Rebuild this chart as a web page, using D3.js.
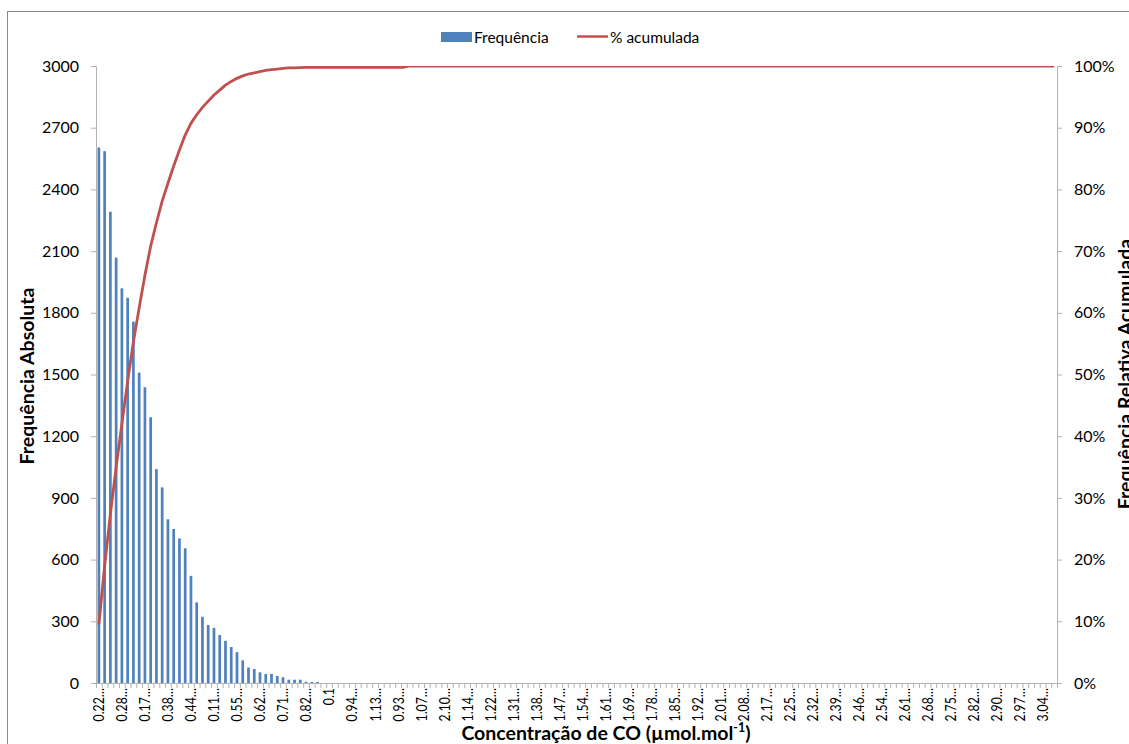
<!DOCTYPE html>
<html>
<head>
<meta charset="utf-8">
<script src="https://cdn.jsdelivr.net/npm/d3@7"></script>
<style>
  body { margin: 0; background: #fff; }
  svg { display: block; }
  text { font-family: Lato, "Open Sans", sans-serif; fill: #000; }
</style>
</head>
<body>
<svg id="chart" width="1129" height="744"></svg>
<script>
// Number of concentration classes on the horizontal axis
const binCount = 167;

// Class labels shown under the axis (one every four classes)
const tickLabels = [
  "0.22…","0.28…","0.17…","0.38…","0.44…","0.11…","0.55…","0.62…","0.71…","0.82…",
  "0.1","0.94…","1.13…","0.93…","1.07…","2.10…","1.14…","1.22…","1.31…","1.38…",
  "1.47…","1.54…","1.61…","1.69…","1.78…","1.85…","1.92…","2.01…","2.08…","2.17…",
  "2.25…","2.32…","2.39…","2.46…","2.54…","2.61…","2.68…","2.75…","2.82…","2.90…",
  "2.97…","3.04…"
];
const labelEvery = 4;

// Absolute frequency per class (classes beyond these are empty)
const freq = [
  2604, 2586, 2291, 2068, 1919, 1873, 1757, 1509, 1438, 1292,
  1040, 951, 796, 749, 703, 655, 521, 392, 322, 282,
  268, 233, 205, 175, 150, 110, 75, 68, 52, 44,
  44, 34, 28, 16, 16, 16, 6, 5, 5
];

// Cumulative relative frequency (%) per class; stays at 100% afterwards
const cumPct = [
  9.5, 19.0, 27.4, 35.0, 42.0, 48.9, 55.3, 60.8, 66.1, 70.8,
  74.6, 78.1, 81.0, 83.8, 86.4, 88.8, 90.7, 92.1, 93.3, 94.3,
  95.3, 96.1, 96.9, 97.5, 98.0, 98.4, 98.7, 98.9, 99.1, 99.3,
  99.4, 99.5, 99.6, 99.7, 99.7, 99.75, 99.78, 99.8, 99.8, 99.8,
  99.8, 99.8, 99.8, 99.8, 99.8, 99.8, 99.8, 99.8, 99.8, 99.8,
  99.8, 99.8, 99.8, 99.8, 100
];

const freqTicks = [0, 300, 600, 900, 1200, 1500, 1800, 2100, 2400, 2700, 3000];
const pctTicks = [0, 10, 20, 30, 40, 50, 60, 70, 80, 90, 100];

const barColor = "#4F81BD";
const lineColor = "#C0504D";
const axisColor = "#b3b3b3";

const plot = { left: 96, right: 1057, top: 66, bottom: 683 };

const svg = d3.select("#chart");

// Outer chart frame
svg.append("rect")
  .attr("x", 7.5).attr("y", 11.5)
  .attr("width", 1300).attr("height", 1000)
  .attr("fill", "none").attr("stroke", "#8c8c8c").attr("stroke-width", 1);

const xEdge = d3.scaleLinear().domain([0, binCount]).range([plot.left, plot.right]);
const step = (plot.right - plot.left) / binCount;
const xCenter = i => xEdge(i) + step / 2;
const barWidth = step * 0.47;

const yFreq = d3.scaleLinear().domain([0, 3000]).range([plot.bottom, plot.top]);
const yPct = d3.scaleLinear().domain([0, 100]).range([plot.bottom, plot.top]);

// Bars
svg.append("g")
  .selectAll("rect")
  .data(freq)
  .join("rect")
  .attr("x", (d, i) => xCenter(i) - barWidth / 2)
  .attr("width", barWidth)
  .attr("y", d => yFreq(d))
  .attr("height", d => plot.bottom - yFreq(d))
  .attr("fill", barColor);

// Left axis
const gLeft = svg.append("g")
  .attr("transform", `translate(${plot.left},0)`)
  .call(d3.axisLeft(yFreq).tickValues(freqTicks).tickSize(5).tickSizeOuter(0).tickPadding(12)
    .tickFormat(d3.format("d")));
gLeft.selectAll("text").style("font-size", "16px").attr("fill", "#000");

// Right axis
const gRight = svg.append("g")
  .attr("transform", `translate(${plot.right},0)`)
  .call(d3.axisRight(yPct).tickValues(pctTicks).tickSize(5).tickSizeOuter(0).tickPadding(12)
    .tickFormat(d => d + "%"));
gRight.selectAll("text").style("font-size", "16px").attr("fill", "#000");

// Bottom axis: a tick at every class boundary
const gBottom = svg.append("g")
  .attr("transform", `translate(0,${plot.bottom})`)
  .call(d3.axisBottom(xEdge).tickValues(d3.range(binCount + 1)).tickSize(5).tickSizeOuter(0).tickFormat(""));

[gLeft, gRight, gBottom].forEach(g => {
  g.selectAll("path.domain").attr("stroke", axisColor);
  g.selectAll(".tick line").attr("stroke", axisColor);
});

// Rotated class labels (slightly condensed along the reading direction)
svg.append("g")
  .selectAll("text")
  .data(tickLabels)
  .join("text")
  .attr("transform", (d, k) => `translate(${xCenter(k * labelEvery)},688) rotate(-90) scale(0.82,1)`)
  .attr("dy", "0.36em")
  .attr("text-anchor", "end")
  .style("font-size", "15px")
  .text(d => d);

// Cumulative line, clipped to the plot area
svg.append("clipPath").attr("id", "plotClip")
  .append("rect")
  .attr("x", plot.left).attr("y", plot.top)
  .attr("width", plot.right - plot.left).attr("height", plot.bottom - plot.top);

const linePts = cumPct.map((v, i) => [i, v]);
linePts.push([binCount - 1, 100]);

svg.append("path")
  .datum(linePts)
  .attr("clip-path", "url(#plotClip)")
  .attr("fill", "none")
  .attr("stroke", lineColor)
  .attr("stroke-width", 2.8)
  .attr("stroke-linejoin", "round")
  .attr("d", d3.line().x(d => xCenter(d[0])).y(d => yPct(d[1])));

// Axis titles
svg.append("text")
  .attr("transform", "translate(34,376) rotate(-90)")
  .attr("text-anchor", "middle")
  .style("font-size", "19.5px").style("font-weight", "bold")
  .text("Frequência Absoluta");

svg.append("text")
  .attr("transform", "translate(1132,374) rotate(-90)")
  .attr("text-anchor", "middle")
  .style("font-size", "19.5px").style("font-weight", "bold")
  .text("Frequência Relativa  Acumulada");

const xTitle = svg.append("text")
  .attr("x", 606).attr("y", 740)
  .attr("text-anchor", "middle")
  .style("font-size", "19.5px").style("font-weight", "bold");
xTitle.append("tspan").text("Concentração de CO (µmol.mol");
xTitle.append("tspan").attr("dy", -8).style("font-size", "12.5px").text("-1");
xTitle.append("tspan").attr("dy", 8).text(")");

// Legend
const legend = svg.append("g");
legend.append("rect")
  .attr("x", 441).attr("y", 32).attr("width", 31).attr("height", 10)
  .attr("fill", barColor);
legend.append("text")
  .attr("x", 474).attr("y", 43)
  .style("font-size", "15.5px")
  .text("Frequência");
legend.append("line")
  .attr("x1", 577).attr("x2", 608).attr("y1", 36.5).attr("y2", 36.5)
  .attr("stroke", lineColor).attr("stroke-width", 2.5);
legend.append("text")
  .attr("x", 610).attr("y", 43)
  .style("font-size", "15.5px")
  .text("% acumulada");
</script>
</body>
</html>
